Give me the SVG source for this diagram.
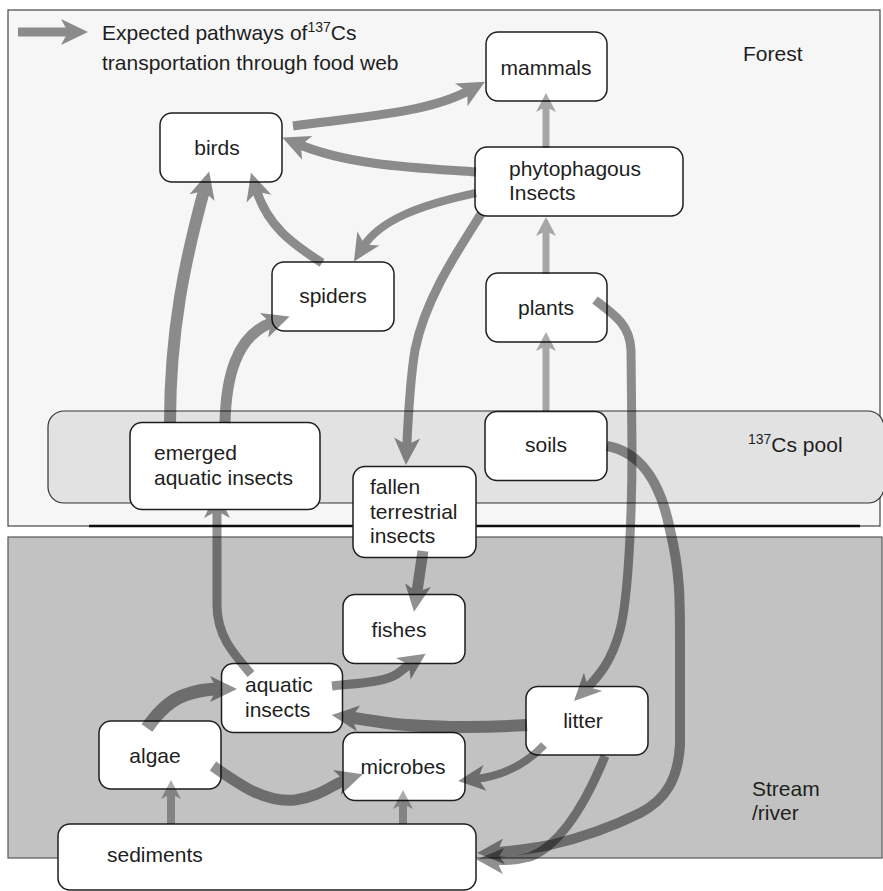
<svg xmlns="http://www.w3.org/2000/svg" width="883" height="891" viewBox="0 0 883 891">
<style>
text{font-family:"Liberation Sans",Arial,Helvetica,sans-serif;font-size:21px;fill:#1e1e1e}
.n rect{fill:#fff;stroke:#1e1e1e;stroke-width:1.5}
.m{text-anchor:middle}
.d{opacity:.43}
.l{opacity:.32}
.d path{fill:none;stroke:#000;marker-end:url(#ah)}
.l path{fill:none;stroke:#000;stroke-width:7;marker-end:url(#ahl)}
</style>
<defs>
<marker id="ah" viewBox="-30 -15 32 30" refX="-17" refY="0" markerWidth="32" markerHeight="30" markerUnits="userSpaceOnUse" orient="auto"><path d="M0,0 L-27,-13 L-20,0 L-27,13 Z" fill="#000"/></marker>
<marker id="ahl" viewBox="-22 -12 24 24" refX="-12" refY="0" markerWidth="24" markerHeight="24" markerUnits="userSpaceOnUse" orient="auto"><path d="M0,0 L-19,-10 L-14,0 L-19,10 Z" fill="#000"/></marker>
</defs>
<rect width="883" height="891" fill="#fff"/>
<g id="regions">
<rect x="8" y="10" width="872" height="516" fill="#f6f6f6" stroke="#444" stroke-width="1.2"/>
<rect x="48" y="411" width="836" height="92" rx="16" fill="#e2e2e2" stroke="#333" stroke-width="1.2"/>
<line x1="89" y1="526" x2="860" y2="526" stroke="#111" stroke-width="2.4"/>
<rect x="8" y="537" width="874" height="321" fill="#c1c2c1" stroke="#555" stroke-width="1.2"/>
<text x="743" y="61">Forest</text>
<text x="748" y="452"><tspan font-size="14" dy="-8">137</tspan><tspan dy="8">Cs pool</tspan></text>
<text x="752" y="796">Stream</text>
<text x="752" y="820">/river</text>
</g>
<g id="legend">
<g class="d"><path d="M18,32 L71,32" style="stroke-width:9"/></g>
<text x="102" y="40">Expected pathways of<tspan font-size="14" dy="-8">137</tspan><tspan dy="8">Cs</tspan></text>
<text x="102" y="70">transportation through food web</text>
</g>
<g id="node-birds" class="n"><rect x="160" y="113" width="122" height="69" rx="12"/><text class="m" x="217" y="155">birds</text></g>
<g id="node-mammals" class="n"><rect x="486" y="32" width="121" height="69" rx="12"/><text class="m" x="546" y="75">mammals</text></g>
<g id="node-phytophagous" class="n"><rect x="475" y="147" width="208" height="69" rx="12"/><text x="509" y="176">phytophagous</text><text x="509" y="200">Insects</text></g>
<g id="node-spiders" class="n"><rect x="272" y="262" width="122" height="69" rx="12"/><text class="m" x="333" y="303">spiders</text></g>
<g id="node-plants" class="n"><rect x="486" y="273" width="121" height="69" rx="12"/><text class="m" x="546" y="315">plants</text></g>
<g id="node-soils" class="n"><rect x="485" y="411.5" width="122" height="69" rx="12"/><text class="m" x="546" y="452">soils</text></g>
<g id="node-fallen" class="n"><rect x="353" y="466.5" width="123" height="91" rx="12"/><text x="370" y="494">fallen</text><text x="370" y="519">terrestrial</text><text x="370" y="543">insects</text></g>
<g id="node-fishes" class="n"><rect x="343" y="594.5" width="122" height="69" rx="12"/><text class="m" x="399" y="637">fishes</text></g>
<g id="node-aquatic" class="n"><rect x="221.5" y="663.5" width="121" height="69" rx="12"/><text x="245" y="692">aquatic</text><text x="245" y="717">insects</text></g>
<g id="node-algae" class="n"><rect x="99" y="721" width="122" height="68" rx="12"/><text class="m" x="155" y="763">algae</text></g>
<g id="node-microbes" class="n"><rect x="343" y="732.5" width="122" height="68" rx="12"/><text class="m" x="403" y="774">microbes</text></g>
<g id="node-litter" class="n"><rect x="526" y="686.5" width="122" height="68.5" rx="12"/><text class="m" x="583" y="728">litter</text></g>
<g id="node-sediments" class="n"><rect x="58" y="824" width="418" height="66" rx="12"/><text x="107" y="862">sediments</text></g>
<g id="connectors">
<g class="d"><path d="M217,508 L217,605 C217,635 232,652 251,674" style="stroke-width:9;marker-end:none;marker-start:url(#ahs)"/></g>
</g>
<defs>
<marker id="ahs" viewBox="-30 -15 32 30" refX="-17" refY="0" markerWidth="32" markerHeight="30" markerUnits="userSpaceOnUse" orient="auto-start-reverse"><path d="M0,0 L-27,-13 L-20,0 L-27,13 Z" fill="#000"/></marker>
</defs>
<g id="node-emerged" class="n"><rect x="130" y="422.5" width="190" height="87" rx="12"/><text x="154" y="460">emerged</text><text x="154" y="485">aquatic insects</text></g>
<g id="connectors-top">
<g class="d"><path d="M293,126 C370,116 430,112 470,90" style="stroke-width:9"/></g>
<g class="d"><path d="M476,172 C420,168 350,166 298,144" style="stroke-width:9"/></g>
<g class="d"><path d="M476,193 C420,205 380,220 363,247" style="stroke-width:8"/></g>
<g class="d"><path d="M322,263 C295,245 268,228 256,189" style="stroke-width:9"/></g>
<g class="d"><path d="M170,423 C170,330 185,260 204.7,188" style="stroke-width:12"/></g>
<g class="d"><path d="M225,423 C226,380 235,335 273.5,322" style="stroke-width:11"/></g>
<g class="d"><path d="M481,214 C455,255 425,300 415,350 C410,380 408,420 406.7,448" style="stroke-width:9"/></g>
<g class="l"><path d="M546,148 L546,105"/></g>
<g class="l"><path d="M546,274 L546,229"/></g>
<g class="l"><path d="M546,411 L546,344"/></g>
<g class="d"><path d="M595,300 C615,315 630,325 631,350 L632,450 C632,520 628,600 620,630 C612,660 600,675 586,689" style="stroke-width:9"/></g>
<g class="d"><path d="M607,446 C640,452 660,480 670,530 C680,570 680,600 680,640 L680,745 C678,780 665,800 640,813 C610,828 580,838 550,845 C530,849 510,851 494,852" style="stroke-width:10"/></g>
<g class="d"><path d="M605,756 C585,805 560,845 530,857 C515,861 505,861 493.5,860.4" style="stroke-width:9"/></g>
<g class="d"><path d="M544,745 C530,760 510,775 475,779" style="stroke-width:8"/></g>
<g class="d"><path d="M527,725 C480,728 420,728 380,722 C365,720 355,718 348.6,717.2" style="stroke-width:12"/></g>
<g class="d"><path d="M423,551 L416.5,595" style="stroke-width:11"/></g>
<g class="d"><path d="M332,686 C360,683 385,682 397,674 C402,670 406,667 411.6,663.2" style="stroke-width:9"/></g>
<g class="d"><path d="M147,728 C158,712 170,700 185,695 C198,690 210,689 220,689" style="stroke-width:13"/></g>
<g class="d"><path d="M213,766 C240,785 265,803 295,800 C320,797 335,783 346.5,779.4" style="stroke-width:11"/></g>
<g class="l"><path d="M171,824 L171,792" style="stroke-width:8"/></g>
<g class="l"><path d="M403,824 L403,802" style="stroke-width:8"/></g>
</g>
</svg>
